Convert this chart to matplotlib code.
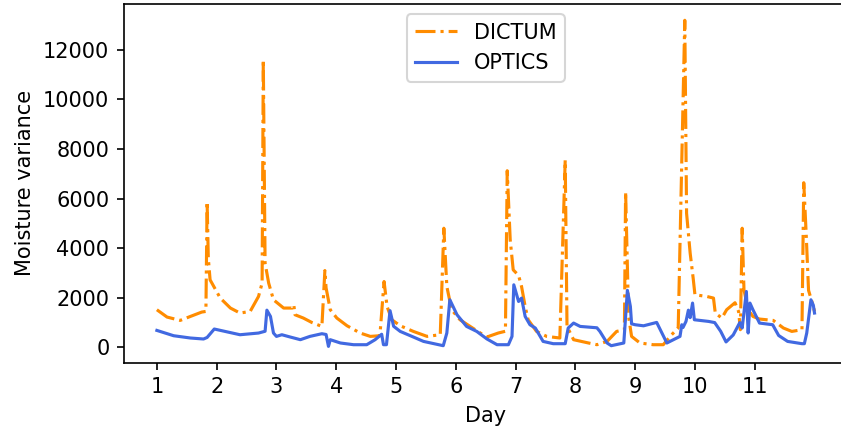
import matplotlib
matplotlib.use("Agg")
import matplotlib.pyplot as plt

# DICTUM moisture variance (day, value)
dictum_day = [1.00, 1.17, 1.39, 1.56, 1.75, 1.82, 1.84, 1.86, 1.89, 2.06, 2.23, 2.39,
              2.56, 2.70, 2.76, 2.78, 2.81, 2.87, 2.95, 3.12, 3.26, 3.29, 3.31, 3.45,
              3.59, 3.76, 3.81, 3.83, 3.90, 4.01, 4.18, 4.40, 4.57, 4.73, 4.80, 4.85,
              4.93, 5.07, 5.29, 5.52, 5.74, 5.80, 5.85, 5.93, 6.07, 6.24, 6.41, 6.52,
              6.71, 6.83, 6.86, 6.91, 6.96, 7.05, 7.10, 7.16, 7.21, 7.35, 7.52, 7.74,
              7.83, 7.86, 7.97, 8.22, 8.36, 8.53, 8.69, 8.82, 8.84, 8.89, 8.94, 9.08,
              9.30, 9.47, 9.61, 9.72, 9.83, 9.86, 9.92, 9.97, 10.00, 10.20, 10.31, 10.34,
              10.45, 10.53, 10.67, 10.73, 10.76, 10.79, 10.82, 10.89, 10.97, 11.08, 11.31, 11.48,
              11.62, 11.79, 11.82, 11.86, 11.90, 11.98, 12.00]
dictum_val = [1517, 1222, 1087, 1247, 1423, 1450, 5873, 3600, 2723, 1987, 1585, 1384,
              1448, 2052, 2590, 11600, 3395, 2590, 1919, 1585, 1585, 1718, 1315, 1182,
              1006, 845, 3097, 2400, 1517, 1182, 873, 579, 443, 470, 2655, 1650,
              1114, 873, 644, 443, 511, 4803, 2454, 1517, 1114, 845, 579, 418,
              579, 650, 7120, 4332, 3126, 2900, 2450, 1650, 1114, 644, 443, 378,
              7550, 845, 310, 177, 108, 241, 644, 712, 6275, 1247, 443, 177,
              108, 108, 511, 780, 13182, 5406, 3797, 2792, 2120, 2052, 1987, 1384,
              1182, 1517, 1800, 1448, 712, 4803, 2321, 1517, 1247, 1142, 1087, 780,
              644, 712, 6637, 4600, 2300, 1650, 1448]

# OPTICS moisture variance (day, value)
optics_day = [1.00, 1.28, 1.56, 1.78, 1.84, 1.96, 2.39, 2.70, 2.81, 2.84, 2.90, 2.95,
              3.00, 3.09, 3.23, 3.40, 3.56, 3.76, 3.83, 3.87, 3.90, 4.07, 4.29, 4.51,
              4.65, 4.76, 4.79, 4.84, 4.90, 4.96, 5.07, 5.29, 5.46, 5.79, 5.85, 5.90,
              6.02, 6.18, 6.35, 6.52, 6.69, 6.88, 6.94, 6.97, 7.05, 7.10, 7.16, 7.24,
              7.33, 7.46, 7.63, 7.83, 7.88, 7.97, 8.08, 8.36, 8.41, 8.53, 8.60, 8.81,
              8.87, 8.92, 8.94, 9.00, 9.14, 9.36, 9.53, 9.75, 9.78, 9.80, 9.85, 9.89,
              9.92, 9.96, 9.99, 10.23, 10.33, 10.43, 10.52, 10.64, 10.75, 10.79, 10.86, 10.89,
              10.92, 10.97, 11.08, 11.30, 11.40, 11.55, 11.79, 11.83, 11.87, 11.94, 11.98, 12.00]
optics_val = [684, 470, 378, 338, 400, 740, 510, 578, 650, 1500, 1247, 579,
              443, 510, 418, 310, 443, 551, 520, 40, 310, 177, 108, 108,
              310, 530, 108, 108, 1480, 850, 644, 418, 241, 68, 579, 1919,
              1315, 845, 644, 340, 108, 108, 443, 2522, 1850, 1987, 1247, 913,
              780, 241, 149, 149, 780, 980, 845, 790, 644, 177, 68, 177,
              2300, 1650, 950, 913, 870, 1006, 177, 443, 913, 800, 1046, 1500,
              1200, 1786, 1114, 1046, 1000, 650, 220, 500, 1000, 780, 2253, 579,
              1786, 1517, 980, 913, 480, 241, 149, 149, 579, 1919, 1700, 1384]

day_ticks = list(range(1, 12))

DPI = 150
W, H = 841, 436
fig = plt.figure(figsize=(W / DPI, H / DPI), dpi=DPI)
ax = fig.add_axes([124 / W, 73.3 / H, 723.4 / W, 358.7 / H])

ax.plot(dictum_day, dictum_val, color="darkorange", linestyle="-.", linewidth=1.5, label="DICTUM")
ax.plot(optics_day, optics_val, color="royalblue", linestyle="-", linewidth=1.5, label="OPTICS")

ax.set_xticks(day_ticks)
ax.set_xlabel("Day")
ax.set_ylabel("Moisture variance")
ax.legend(loc="upper center")

# the frame's right side lies beyond the saved canvas
ax.spines["right"].set_visible(False)

fig.savefig("out.png", dpi=DPI)
